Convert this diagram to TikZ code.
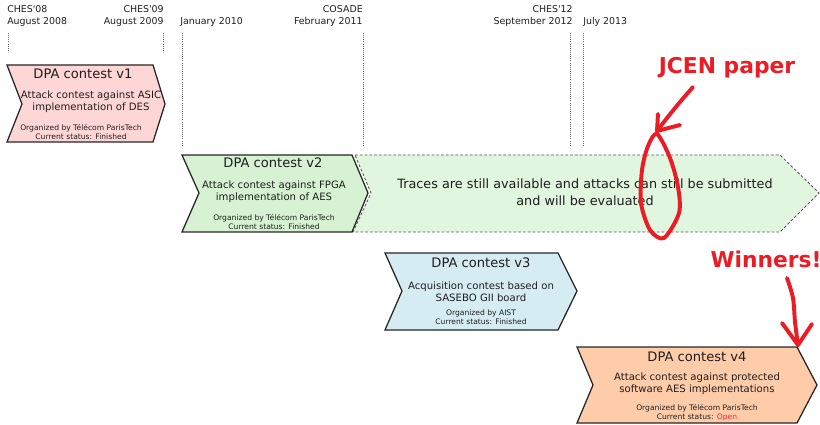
\documentclass[tikz,border=0pt]{standalone}
\usepackage{fontspec}
\setmainfont{DejaVu Sans}
\usetikzlibrary{calc}

\definecolor{textgray}{RGB}{30,30,30}
\definecolor{vonefill}{RGB}{255,214,214}
\definecolor{vtwofill}{RGB}{214,242,210}
\definecolor{tracefill}{RGB}{224,246,222}
\definecolor{vthreefill}{RGB}{214,236,243}
\definecolor{vfourfill}{RGB}{255,204,170}
\definecolor{scribred}{RGB}{236,28,36}
\definecolor{openred}{RGB}{255,40,40}

\begin{document}
\begin{tikzpicture}[x=0.025cm,y=-0.025cm,
  box/.style={draw=black!85, line width=0.9pt, line join=miter},
  guide/.style={draw=black!60, line width=0.5pt, densely dotted},
  datelbl/.style={font=\fontsize{6.7}{8.5}\selectfont, text=textgray, inner sep=0},
  boxtitle/.style={font=\fontsize{9.3}{11}\selectfont, text=textgray, inner sep=0},
  boxdesc/.style={font=\fontsize{7.2}{8.6}\selectfont, text=textgray, align=center, inner sep=0},
  boxinfo/.style={font=\fontsize{5.4}{6.4}\selectfont, text=textgray, align=center, inner sep=0},
  scribble/.style={draw=scribred, line width=2.8pt, line cap=round, line join=round},
  scribtext/.style={font=\fontsize{15.5}{17}\selectfont\bfseries, text=scribred, inner sep=0}]

  \useasboundingbox (0,0) rectangle (820,425);

  % dates on top
  \node[datelbl, anchor=west, align=left]  (d08) at (7,16)   {CHES\textquotesingle08\\August 2008};
  \node[datelbl, anchor=east, align=right] (d09) at (164,16) {CHES\textquotesingle09\\August 2009};
  \node[datelbl, anchor=west]              (d10) at (180,22) {January 2010};
  \node[datelbl, anchor=east, align=right] (d11) at (363,16) {COSADE\\February 2011};
  \node[datelbl, anchor=east, align=right] (d12) at (573,16) {CHES\textquotesingle12\\September 2012};
  \node[datelbl, anchor=west]              (d13) at (583,22) {July 2013};

  \draw[guide] (8,33) -- (8,52);
  \draw[guide] (163,33) -- (163,52);
  \draw[guide] (182,33) -- (182,145);
  \draw[guide] (363,33) -- (363,145);
  \draw[guide] (570,33) -- (570,145);
  \draw[guide] (583,33) -- (583,145);

  % traces still available
  \draw[draw=black!65, line width=0.6pt, dash pattern=on 2pt off 1.4pt, fill=tracefill]
    (355,155) -- (780,155) -- (819,193) -- (780,232) -- (353,232) -- (371,193) -- cycle;
  \node[font=\fontsize{9.1}{12}\selectfont, text=textgray, align=center, inner sep=0] (traces) at (585,192)
    {Traces are still available and attacks can still be submitted\\and will be evaluated};

  % v1
  \draw[box, fill=vonefill] (7,65) -- (153,65) -- (165,104) -- (153,142) -- (7,142) -- (22,104) -- cycle;
  \node[boxtitle] (vonetitle) at (83,74)    {DPA contest v1};
  \node[boxdesc]  (vonedesc)  at (91,101.5) {Attack contest against ASIC\\implementation of DES};
  \node[boxinfo]  (voneinfo)  at (81,132.5) {Organized by Télécom ParisTech\\Current status: Finished};

  % v2
  \draw[box, fill=vtwofill] (182,155) -- (352,155) -- (368,193) -- (352,232) -- (182,232) -- (199,193) -- cycle;
  \node[boxtitle] (vtwotitle) at (273,163) {DPA contest v2};
  \node[boxdesc]  (vtwodesc)  at (274,192) {Attack contest against FPGA\\implementation of AES};
  \node[boxinfo]  (vtwoinfo)  at (274,222) {Organized by Télécom ParisTech\\Current status: Finished};

  % v3
  \draw[box, fill=vthreefill] (385,253) -- (558,253) -- (577,291) -- (558,330) -- (385,330) -- (402,291) -- cycle;
  \node[boxtitle] (vthreetitle) at (481,263)   {DPA contest v3};
  \node[boxdesc]  (vthreedesc)  at (481,292)   {Acquisition contest based on\\SASEBO GII board};
  \node[boxinfo]  (vthreeinfo)  at (481,317.5) {Organized by AIST\\Current status: Finished};

  % v4
  \draw[box, fill=vfourfill] (577,347) -- (797,347) -- (817,385) -- (797,423) -- (577,423) -- (593,385) -- cycle;
  \node[boxtitle] (vfourtitle) at (697,357)   {DPA contest v4};
  \node[boxdesc]  (vfourdesc)  at (697,384)   {Attack contest against protected\\software AES implementations};
  \node[boxinfo]  (vfourinfo)  at (697,412.5) {Organized by Télécom ParisTech\\Current status: \textcolor{openred}{Open}};

  % red scribbles
  \node[scribtext] (jcen) at (727,68) {JCEN paper};
  \coordinate (jcenfrom) at (693,87);
  \coordinate (jcentip) at (657,131);
  \draw[scribble] plot[smooth] coordinates {(jcenfrom) (680,102) (667,118) (jcentip)};
  \draw[scribble] (658,114) -- (jcentip) -- (680,125);
  \draw[scribble] plot[smooth cycle] coordinates
    {(657,134) (670,158) (678,187) (679,213) (664,238) (650,230) (641,203) (642,170) (648,146)};

  \node[scribtext] (winners) at (766,259) {Winners!};
  \coordinate (winfrom) at (787,278);
  \coordinate (wintip) at (798,345);
  \draw[scribble] plot[smooth] coordinates {(winfrom) (793,298) (795,322) (wintip)};
  \draw[scribble] (782,323) -- (wintip) -- (812,324);

\end{tikzpicture}
\end{document}
